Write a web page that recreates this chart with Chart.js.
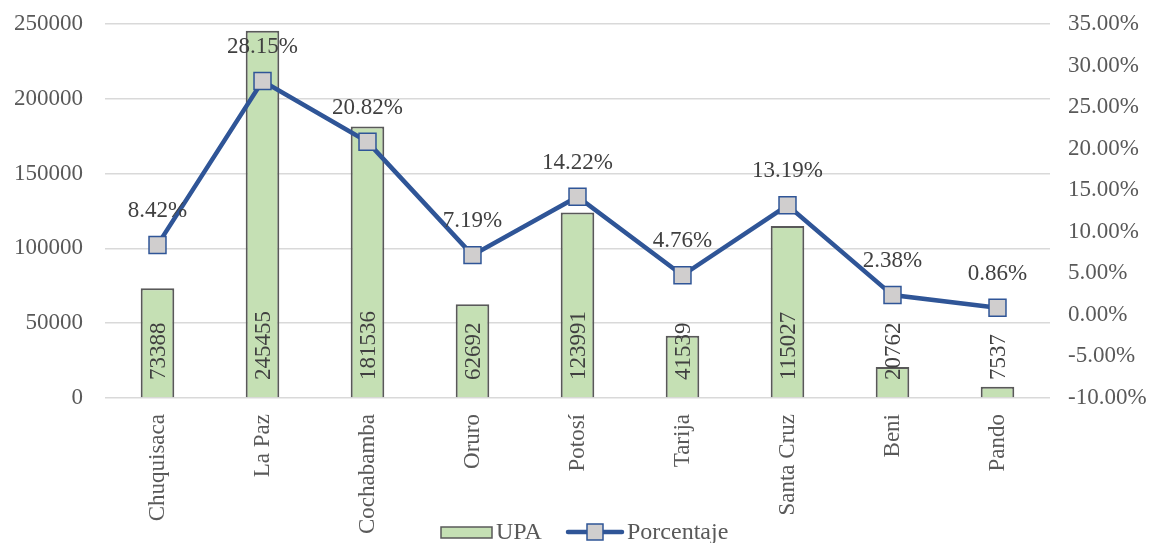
<!DOCTYPE html>
<html>
<head>
<meta charset="utf-8">
<script src="https://cdn.jsdelivr.net/npm/chart.js@4/dist/chart.umd.min.js"></script>
<style>
  html, body { margin: 0; padding: 0; background: #fff; }
  #wrap { width: 1154px; height: 543px; }
</style>
</head>
<body>
<div id="wrap"><canvas id="chart"></canvas></div>
<script>
const departamentos = ["Chuquisaca", "La Paz", "Cochabamba", "Oruro", "Potosí", "Tarija", "Santa Cruz", "Beni", "Pando"];
const upa = [73388, 245455, 181536, 62692, 123991, 41539, 115027, 20762, 7537];
const porcentaje = [8.42, 28.15, 20.82, 7.19, 14.22, 4.76, 13.19, 2.38, 0.86];

const FONT = "'Liberation Serif', 'Times New Roman', serif";
const TXT = "#595959";
const VERDE = "#c5e0b4";
const AZUL = "#2f5597";

// etiquetas de datos (barras en la base, linea encima del punto)
const dataLabels = {
  id: "dataLabels",
  afterDatasetsDraw(chart) {
    const ctx = chart.ctx;
    ctx.save();
    ctx.font = "23px " + FONT;
    ctx.fillStyle = "#404040";
    const bars = chart.getDatasetMeta(0).data;
    const base = chart.scales.y.getPixelForValue(0);
    bars.forEach((b, i) => {
      ctx.save();
      ctx.translate(b.x, base - 18);
      ctx.rotate(-Math.PI / 2);
      ctx.textAlign = "left";
      ctx.textBaseline = "middle";
      ctx.fillText(String(upa[i]), 0, 1);
      ctx.restore();
    });
    const pts = chart.getDatasetMeta(1).data;
    pts.forEach((p, i) => {
      ctx.textAlign = "center";
      ctx.textBaseline = "middle";
      ctx.fillText(porcentaje[i].toFixed(2) + "%", p.x, p.y - 34);
    });
    ctx.restore();
  }
};

// leyenda abajo, encima del area de etiquetas del eje x
const leyenda = {
  id: "leyenda",
  afterDraw(chart) {
    const ctx = chart.ctx;
    const cy = chart.height - 11;
    ctx.save();
    ctx.font = "24px " + FONT;
    ctx.fillStyle = TXT;
    ctx.textBaseline = "middle";
    ctx.textAlign = "left";
    // UPA
    let x = 441;
    ctx.fillStyle = VERDE;
    ctx.fillRect(x, cy - 5, 51, 11);
    ctx.strokeStyle = "#595959";
    ctx.lineWidth = 1.5;
    ctx.strokeRect(x, cy - 5, 51, 11);
    ctx.fillStyle = TXT;
    ctx.fillText("UPA", x + 55, cy + 1);
    // Porcentaje
    x = 568;
    ctx.strokeStyle = AZUL;
    ctx.lineWidth = 4.5;
    ctx.lineCap = "round";
    ctx.beginPath();
    ctx.moveTo(x, cy);
    ctx.lineTo(x + 54, cy);
    ctx.stroke();
    ctx.fillStyle = "#d0cece";
    ctx.lineWidth = 1.5;
    ctx.fillRect(x + 19, cy - 8, 16, 16);
    ctx.strokeRect(x + 19, cy - 8, 16, 16);
    ctx.fillStyle = TXT;
    ctx.fillText("Porcentaje", x + 59, cy + 1);
    ctx.restore();
  }
};

const sinPadding = scale => { scale.paddingTop = 0; scale.paddingBottom = 0; };

new Chart(document.getElementById("chart"), {
  data: {
    labels: departamentos,
    datasets: [
      {
        type: "bar",
        label: "UPA",
        data: upa,
        yAxisID: "y",
        backgroundColor: VERDE,
        borderColor: "#595959",
        borderWidth: 2,
        borderSkipped: "bottom",
        barPercentage: 0.32,
        categoryPercentage: 1,
        order: 2
      },
      {
        type: "line",
        label: "Porcentaje",
        data: porcentaje,
        yAxisID: "y1",
        borderColor: AZUL,
        borderWidth: 4.5,
        pointStyle: "rect",
        pointRadius: 12,
        pointBackgroundColor: "#d0cece",
        pointBorderColor: AZUL,
        pointBorderWidth: 1.5,
        tension: 0,
        order: 1
      }
    ]
  },
  options: {
    responsive: true,
    maintainAspectRatio: false,
    animation: false,
    layout: { padding: { top: 24, left: 0, right: 4, bottom: 0 } },
    plugins: {
      legend: { display: false },
      tooltip: { enabled: false }
    },
    scales: {
      x: {
        grid: { display: false },
        border: { display: false },
        ticks: {
          font: { family: FONT, size: 23 },
          color: TXT,
          minRotation: 90,
          maxRotation: 90,
          padding: 8
        },
        afterFit(scale) { scale.height = 145; }
      },
      y: {
        position: "left",
        min: 0,
        max: 250000,
        ticks: {
          stepSize: 50000,
          font: { family: FONT, size: 23 },
          color: TXT,
          padding: 22,
          callback: v => String(v)
        },
        grid: { color: "#d9d9d9", lineWidth: 1.5, drawTicks: false },
        border: { display: false },
        afterFit(scale) { scale.width = 105; sinPadding(scale); }
      },
      y1: {
        position: "right",
        min: -10,
        max: 35,
        ticks: {
          stepSize: 5,
          font: { family: FONT, size: 23 },
          color: TXT,
          padding: 18,
          callback: v => v.toFixed(2) + "%"
        },
        grid: { display: false, drawTicks: false },
        border: { display: false },
        afterFit(scale) { scale.width = 100; sinPadding(scale); }
      }
    }
  },
  plugins: [dataLabels, leyenda]
});
</script>
</body>
</html>
